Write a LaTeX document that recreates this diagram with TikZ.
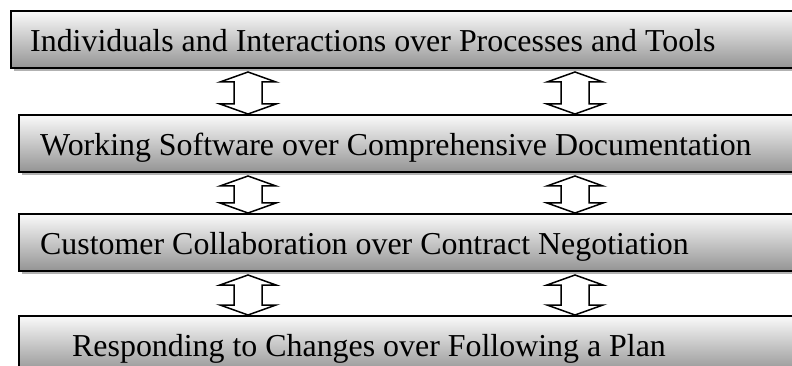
\documentclass[tikz,border=0pt]{standalone}
\usepackage{fontspec}
\setmainfont{Liberation Serif}
\usetikzlibrary{shadows,calc}

\tikzset{
  valuebox/.style={draw=black, line width=2pt, top color=white!98!black,
    bottom color=black!42, minimum width=800pt, minimum height=57pt,
    anchor=north west, inner sep=0pt,
    drop shadow={shadow xshift=3pt, shadow yshift=-3pt, fill=black!30, opacity=1}},
  valuetext/.style={anchor=base west, inner sep=0pt,
    font=\fontsize{31.9}{36}\selectfont},
  linkarrow/.style={draw=black, line width=1.5pt, fill=white, line join=miter},
}

% vertical double arrow at horizontal position #1 between the lower edge of
% node #2 (below its shadow) and the upper edge of node #3
\newcommand\valuelink[3]{%
  \draw[linkarrow] let \p1=(#2.south), \p2=(#3.north) in
    (#1, \y1-3pt) -- (#1+28pt, \y1-13pt) -- (#1+14pt, \y1-13pt)
    -- (#1+14pt, \y2+10pt) -- (#1+28pt, \y2+10pt) -- (#1, \y2)
    -- (#1-28pt, \y2+10pt) -- (#1-14pt, \y2+10pt)
    -- (#1-14pt, \y1-13pt) -- (#1-28pt, \y1-13pt) -- cycle;
}

\begin{document}
\begin{tikzpicture}[x=1pt, y=1pt]
  \useasboundingbox (0,0) rectangle (792,-366);
  \clip (0,0) rectangle (792,-366);

  \node[valuebox] (b1) at (10,-10) {};
  \node[valuebox] (b2) at (18,-114) {};
  \node[valuebox] (b3) at (18,-213) {};
  \node[valuebox] (b4) at (18,-315) {};

  \node[valuetext] (t1) at ($(b1.west)+(20,-12)$) {Individuals and Interactions over Processes and Tools};
  \node[valuetext] (t2) at ($(b2.west)+(22,-12)$) {Working Software over Comprehensive Documentation};
  \node[valuetext] (t3) at ($(b3.west)+(22,-12)$) {Customer Collaboration over Contract Negotiation};
  \node[valuetext] (t4) at ($(b4.west)+(54,-12)$) {Responding to Changes over Following a Plan};

  \valuelink{248pt}{b1}{b2}
  \valuelink{575pt}{b1}{b2}
  \valuelink{248pt}{b2}{b3}
  \valuelink{575pt}{b2}{b3}
  \valuelink{248pt}{b3}{b4}
  \valuelink{575pt}{b3}{b4}
\end{tikzpicture}
\end{document}
